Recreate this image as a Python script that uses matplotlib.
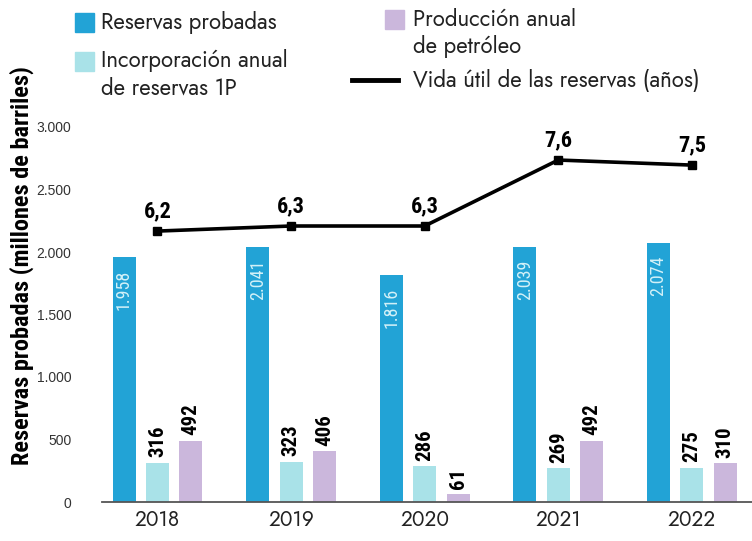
import matplotlib
matplotlib.use('Agg')
import matplotlib.pyplot as plt
from matplotlib.patches import Rectangle
from matplotlib.lines import Line2D
import numpy as np

# datos
years = ['2018', '2019', '2020', '2021', '2022']
reservas = [1958, 2041, 1816, 2039, 2074]
incorporacion = [316, 323, 286, 269, 275]
produccion = [492, 406, 61, 492, 310]
vida_util = [6.2, 6.3, 6.3, 7.6, 7.5]

c_blue = '#22a3d6'
c_cyan = '#a9e2e8'
c_purple = '#cbb7dc'
cond = ['Roboto Condensed', 'DejaVu Sans']
geo = ['Jost', 'Lato', 'DejaVu Sans']

W, H = 752, 541
fig = plt.figure(figsize=(W / 100, H / 100), dpi=100)
fig.patch.set_facecolor('white')
ax = fig.add_axes([102 / W, 1 - 502 / H, 1 - 102 / W, (502 - 114.5) / H])

x = np.arange(len(years))
off = 0.25
bw = 0.172
b1 = ax.bar(x - off, reservas, bw, color=c_blue)
b2 = ax.bar(x, incorporacion, bw, color=c_cyan)
b3 = ax.bar(x + off, produccion, bw, color=c_purple)

def fmt(v):
    return '{:,}'.format(v).replace(',', '.')

for xi, v in zip(x - off, reservas):
    ax.annotate(fmt(v), (xi, v), xytext=(0, -9), textcoords='offset points',
                rotation=90, ha='center', va='top', color='#d4f1f8',
                fontsize=13, family=cond)
for bars, vals in ((b2, incorporacion), (b3, produccion)):
    for r, v in zip(bars, vals):
        ax.annotate(str(v), (r.get_x() + r.get_width() / 2, v), xytext=(0, 4),
                    textcoords='offset points', rotation=90, ha='center',
                    va='bottom', color='black', fontsize=15, fontweight='bold',
                    family=cond)

ax.set_xlim(-0.415, 4.45)
ax.set_ylim(0, 3100)
ax.set_yticks(range(0, 3001, 500))
ax.set_yticklabels([fmt(t) for t in range(0, 3001, 500)], fontsize=10,
                   color='#333333', family=['Liberation Sans', 'DejaVu Sans'])
ax.set_xticks(x)
ax.set_xticklabels(years, fontsize=15, family=geo, color='#222222')
ax.tick_params(axis='y', length=0, pad=22)
ax.tick_params(axis='x', length=0, pad=5)
for s in ['top', 'right', 'left']:
    ax.spines[s].set_visible(False)
ax.spines['bottom'].set_color('#555555')
ax.spines['bottom'].set_linewidth(1.3)

ax2 = ax.twinx()
ax2.set_ylim(0.862, 8.497)
ax2.plot(x, vida_util, color='black', lw=2.6, marker='s', markersize=6)
for xi, v in zip(x, vida_util):
    ax2.annotate(str(v).replace('.', ','), (xi, v), xytext=(0, 6),
                 textcoords='offset points', ha='center', va='bottom',
                 fontsize=16, fontweight='bold', family=cond)
ax2.axis('off')

fig.text(22 / W, 1 - 266 / H, 'Reservas probadas (millones de barriles)',
         rotation=90, ha='center', va='center', fontsize=17.5,
         fontweight='bold', family=cond)

# leyenda
def patch(x0, y0, c):
    fig.patches.append(Rectangle((x0 / W, 1 - (y0 + 19) / H), 19 / W, 19 / H,
                                 color=c, transform=fig.transFigure))

def txt(x0, y0, s):
    fig.text(x0 / W, 1 - y0 / H, s, ha='left', va='center', fontsize=16,
             family=geo, color='#222222')

patch(75, 13, c_blue)
txt(101, 22, 'Reservas probadas')
patch(75, 52, c_cyan)
txt(101, 61, 'Incorporación anual')
txt(101, 88, 'de reservas 1P')
patch(385, 10, c_purple)
txt(413, 19, 'Producción anual')
txt(413, 46, 'de petróleo')
fig.lines.append(Line2D([352 / W, 398 / W], [1 - 80 / H, 1 - 80 / H],
                        color='black', lw=3.5, transform=fig.transFigure))
txt(413, 80, 'Vida útil de las reservas (años)')

fig.savefig('out.png', dpi=100)
